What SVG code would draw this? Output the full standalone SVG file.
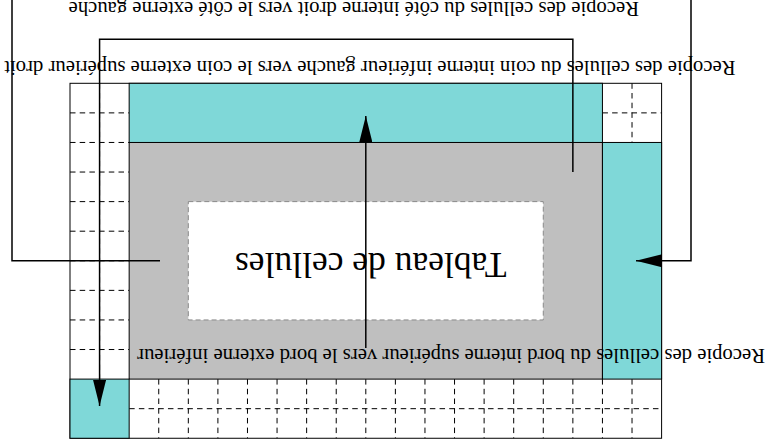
<svg xmlns="http://www.w3.org/2000/svg" width="768" height="448" viewBox="0 0 768 448">
<defs>
<style>
.cy{fill:#7fd8d8;stroke:#000;stroke-width:1}
.gr{fill:#bfbfbf;stroke:#000;stroke-width:1}
.wh{fill:#fff;stroke:#8a8a8a;stroke-width:1;stroke-dasharray:5 3}
.out{fill:none;stroke:#000;stroke-width:1}
.dash{fill:none;stroke:#000;stroke-width:1;stroke-dasharray:5.5 4.2}
.con{fill:none;stroke:#000;stroke-width:1.5}
.lbl{font-family:"Liberation Serif","Times New Roman",serif;font-size:20.7px;fill:#000}
.big{font-family:"Liberation Serif","Times New Roman",serif;font-size:35.5px;fill:#000}
</style>
<marker id="ah" viewBox="0 0 26 13" refX="26" refY="6.5" markerWidth="26" markerHeight="13" markerUnits="userSpaceOnUse" orient="auto">
<path d="M0,0 L26,6.5 L0,13 Z" fill="#000"/>
</marker>
</defs>
<rect width="768" height="448" fill="#fff"/>
<g id="grid">
<path class="dash" d="M99.58,83.3V379.1 M70,112.88H129.16 M70,142.46H129.16 M70,172.04H129.16 M70,201.62H129.16 M70,231.2H129.16 M70,260.78H129.16 M70,290.36H129.16 M70,319.94H129.16 M70,349.52H129.16"/>
<path class="dash" d="M632.02,83.3V142.46 M602.44,112.88H661.6"/>
<path class="dash" d="M129.16,408.68H661.6 M158.74,379.1V438.26 M188.32,379.1V438.26 M217.9,379.1V438.26 M247.48,379.1V438.26 M277.06,379.1V438.26 M306.64,379.1V438.26 M336.22,379.1V438.26 M365.8,379.1V438.26 M395.38,379.1V438.26 M424.96,379.1V438.26 M454.54,379.1V438.26 M484.12,379.1V438.26 M513.7,379.1V438.26 M543.28,379.1V438.26 M572.86,379.1V438.26 M602.44,379.1V438.26 M632.02,379.1V438.26"/>
<rect class="out" x="70" y="83.3" width="591.6" height="354.96"/>
</g>
<g id="core">
<rect class="gr" x="129.16" y="142.46" width="473.28" height="236.64"/>
</g>
<g id="band-top">
<rect class="cy" x="129.16" y="83.3" width="473.28" height="59.16"/>
</g>
<g id="band-right">
<rect class="cy" x="602.44" y="142.46" width="59.16" height="236.64"/>
</g>
<g id="corner">
<rect class="cy" x="70" y="379.1" width="59.16" height="59.16"/>
</g>
<g id="table">
<rect class="wh" x="188.32" y="201.62" width="354.96" height="118.32"/>
<text class="big" transform="translate(506.5,253) rotate(180)">Tableau de cellules</text>
</g>
<g id="connectors">
<path class="con" d="M572.86,172.04V39.3H99.58V406" marker-end="url(#ah)"/>
<path class="con" d="M160,260.78H12V-10H691V260.78H636" marker-end="url(#ah)"/>
<path class="con" d="M365.8,348V116" marker-end="url(#ah)"/>
</g>
<g id="label-side">
<text class="lbl" transform="translate(639,1.5) rotate(180)">Recopie des cellules du côté interne droit vers le côté externe gauche</text>
</g>
<g id="label-corner">
<text class="lbl" transform="translate(735.5,60.5) rotate(180)">Recopie des cellules du coin interne inférieur gauche vers le coin externe supérieur droit</text>
</g>
<g id="label-edge">
<text class="lbl" transform="translate(765,348.5) rotate(180)">Recopie des cellules du bord interne supérieur vers le bord externe inférieur</text>
</g>
</svg>
